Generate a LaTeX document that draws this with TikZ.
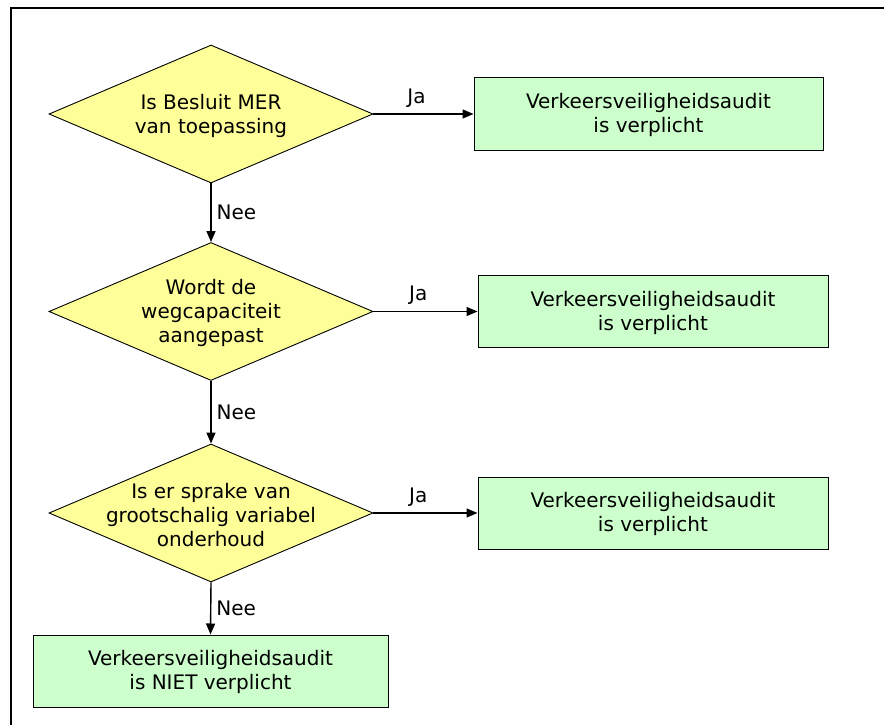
\documentclass[tikz,border=0pt]{standalone}
\usepackage{fontspec}
\setmainfont{DejaVu Sans}
\usetikzlibrary{shapes.geometric,arrows.meta}
\definecolor{decfill}{RGB}{255,255,153}
\definecolor{boxfill}{RGB}{204,255,204}
\tikzset{
  decision/.style={shape=diamond, draw=black, fill=decfill, line width=0.9pt,
    minimum width=324pt, minimum height=138pt, inner sep=0pt},
  result/.style={draw=black, fill=boxfill, line width=1pt, inner sep=0pt},
  txt/.style={align=center, font=\fontsize{20}{24}\selectfont, inner sep=0pt},
  lbl/.style={font=\fontsize{20}{24}\selectfont, inner sep=0pt},
  conn/.style={line width=1.4pt, -{Triangle[length=11pt,width=9pt]}}
}
\begin{document}
\begin{tikzpicture}[x=1pt,y=-1pt]
\useasboundingbox (0,0) rectangle (884,725);
\coordinate (fa) at (11,725);
\coordinate (fb) at (11,8);
\coordinate (fc) at (884,8);
\draw[line width=2pt] (fa) -- (fb) -- (fc);

\node[decision] (d1) at (211,114) {};
\node[txt] (t1) at (211,116) {Is Besluit MER\\van toepassing};
\node[decision] (d2) at (211,311.5) {};
\node[txt] (t2) at (211,313) {Wordt de\\wegcapaciteit\\aangepast};
\node[decision] (d3) at (211,513) {};
\node[txt] (t3) at (211,515) {Is er sprake van\\grootschalig variabel\\onderhoud};

\node[result, minimum width=349pt, minimum height=72pt] (b1) at (648.5,114) {};
\node[txt] (bt1) at (648.5,115) {Verkeersveiligheidsaudit\\is verplicht};
\node[result, minimum width=350pt, minimum height=72pt] (b2) at (653,311.5) {};
\node[txt] (bt2) at (653,312.5) {Verkeersveiligheidsaudit\\is verplicht};
\node[result, minimum width=350pt, minimum height=72pt] (b3) at (653,513) {};
\node[txt] (bt3) at (653,514) {Verkeersveiligheidsaudit\\is verplicht};
\node[result, minimum width=355pt, minimum height=72pt] (b4) at (210.5,671) {};
\node[txt] (bt4) at (210.5,672) {Verkeersveiligheidsaudit\\is NIET verplicht};

\draw[conn] (d1.east) -- node[lbl, above=6pt, pos=0.43] (j1) {Ja} (b1.west);
\draw[conn] (d2.east) -- node[lbl, above=6pt, pos=0.43] (j2) {Ja} (b2.west);
\draw[conn] (d3.east) -- node[lbl, above=6pt, pos=0.43] (j3) {Ja} (b3.west);
\draw[conn] (d1.south) -- node[lbl, right=5pt] (n1) {Nee} (d2.north);
\draw[conn] (d2.south) -- node[lbl, right=5pt] (n2) {Nee} (d3.north);
\draw[conn] (d3.south) -- node[lbl, right=5pt] (n3) {Nee} (b4.north);
\end{tikzpicture}
\end{document}
